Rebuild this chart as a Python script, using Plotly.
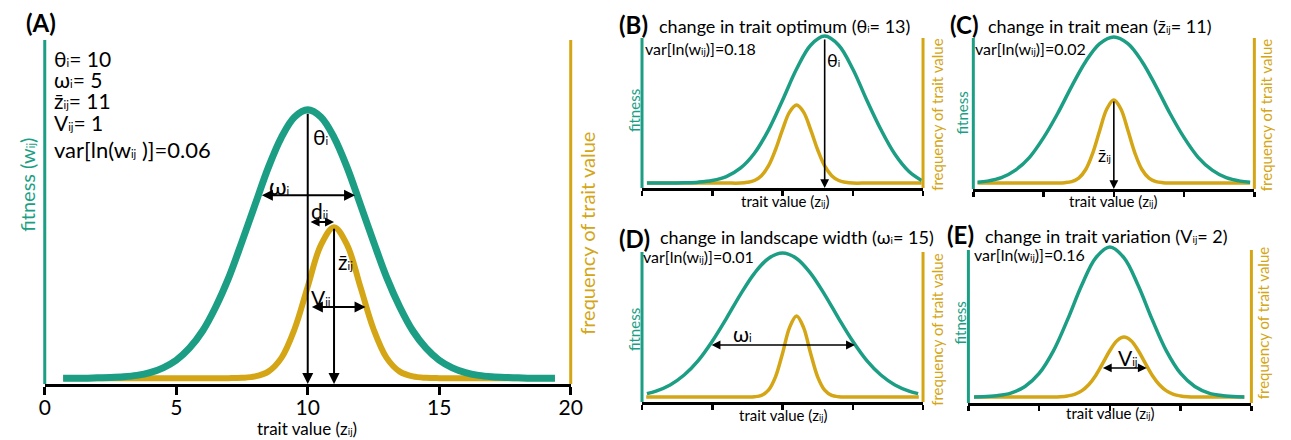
import plotly.graph_objects as go

W, H = 1291, 440
TEAL = "#1b9e84"
GOLD = "#d4a514"
FONT = "Lato"

# ---------------- data ----------------
# Panel A  (theta=10, omega=5, zbar=11, V=1)
A_x = [0.7, 1, 1.5, 2, 2.5, 3, 3.5, 4, 4.5, 5, 5.5, 6, 6.5, 7, 7.5, 8, 8.5, 9, 9.5, 10,
       10.5, 11, 11.5, 12, 12.5, 13, 13.5, 14, 14.5, 15, 15.5, 16, 16.5, 17, 17.5, 18, 18.5, 19, 19.4]
A_fitness = [0.017, 0.017, 0.017, 0.018, 0.019, 0.021, 0.025, 0.033, 0.047, 0.069, 0.104, 0.154,
             0.224, 0.310, 0.414, 0.522, 0.629, 0.717, 0.776, 0.797, 0.776, 0.717, 0.629, 0.522,
             0.414, 0.310, 0.224, 0.154, 0.104, 0.069, 0.047, 0.033, 0.025, 0.021, 0.019, 0.018,
             0.017, 0.017, 0.017]
A_freq = [0.017, 0.017, 0.017, 0.017, 0.017, 0.017, 0.017, 0.017, 0.017, 0.017, 0.017, 0.017,
          0.017, 0.017, 0.018, 0.022, 0.036, 0.076, 0.160, 0.283, 0.404, 0.456, 0.404, 0.283,
          0.160, 0.076, 0.036, 0.022, 0.018, 0.017, 0.017, 0.017, 0.017, 0.017, 0.017, 0.017,
          0.017, 0.017, 0.017]

# Panel B  (trait optimum 13)
B_x_fit = [0.35, 1, 2, 3, 4, 5, 6, 7, 8, 9, 10, 11, 12, 13, 14, 15, 16, 17, 18, 19, 19.9]
B_fitness = [0.033, 0.033, 0.033, 0.035, 0.039, 0.050, 0.076, 0.132, 0.232, 0.386, 0.585, 0.793,
             0.952, 1.013, 0.952, 0.793, 0.585, 0.390, 0.225, 0.110, 0.050]
B_x_freq = [0.35, 1, 2, 3, 4, 5, 6, 7, 7.5, 8, 8.5, 9, 9.5, 10, 10.5, 11, 11.5, 12, 12.5, 13,
            13.5, 14, 14.5, 15, 16, 17, 18, 19, 19.9]
B_freq = [0.033, 0.033, 0.033, 0.033, 0.033, 0.033, 0.033, 0.033, 0.038, 0.050, 0.082, 0.147,
          0.255, 0.389, 0.506, 0.553, 0.506, 0.389, 0.255, 0.147, 0.082, 0.050, 0.038, 0.033,
          0.033, 0.033, 0.033, 0.033, 0.033]

# Panel C  (trait mean)
C_x_fit = [0.3, 1, 2, 3, 4, 5, 6, 7, 8, 9, 10, 11, 12, 13, 14, 15, 16, 17, 18, 19, 19.7]
C_fitness = [0.045, 0.052, 0.075, 0.125, 0.210, 0.340, 0.500, 0.680, 0.845, 0.963, 1.007, 0.963,
             0.845, 0.680, 0.500, 0.340, 0.210, 0.125, 0.075, 0.052, 0.045]
C_x_freq = [0.3, 1, 2, 3, 4, 5, 6, 6.5, 7, 7.5, 8, 8.5, 9, 9.5, 10, 10.5, 11, 11.5, 12, 12.5,
            13, 13.5, 14, 15, 16, 17, 18, 19, 19.7]
C_freq = [0.040, 0.040, 0.040, 0.040, 0.040, 0.040, 0.040, 0.042, 0.049, 0.072, 0.129, 0.238,
          0.389, 0.530, 0.589, 0.530, 0.389, 0.238, 0.129, 0.072, 0.049, 0.042, 0.040, 0.040,
          0.040, 0.040, 0.040, 0.040, 0.040]

# Panel D  (landscape width 15)
D_x_fit = [0.35, 1, 2, 3, 4, 5, 6, 7, 8, 9, 10, 11, 12, 13, 14, 15, 16, 17, 18, 19, 19.65]
D_fitness = [0.056, 0.073, 0.114, 0.180, 0.276, 0.405, 0.556, 0.716, 0.858, 0.957, 0.993, 0.957,
             0.858, 0.716, 0.556, 0.405, 0.276, 0.180, 0.114, 0.073, 0.056]
D_x_freq = [0.3, 1, 2, 3, 4, 5, 6, 7, 7.5, 8, 8.5, 9, 9.5, 10, 10.5, 11, 11.5, 12, 12.5, 13,
            13.5, 14, 14.5, 15, 16, 17, 18, 19, 19.7]
D_freq = [0.033, 0.033, 0.033, 0.033, 0.033, 0.033, 0.033, 0.033, 0.033, 0.035, 0.044, 0.079,
          0.168, 0.324, 0.496, 0.573, 0.496, 0.324, 0.168, 0.079, 0.044, 0.035, 0.033, 0.033,
          0.033, 0.033, 0.033, 0.033, 0.033]

# Panel E  (trait variation 2)
E_x_fit = [0.4, 1, 2, 3, 4, 5, 6, 7, 8, 9, 10, 11, 12, 13, 14, 15, 16, 17, 18, 19, 19.5]
E_fitness = [0.040, 0.041, 0.048, 0.065, 0.108, 0.193, 0.339, 0.543, 0.768, 0.949, 1.020, 0.949,
             0.768, 0.543, 0.339, 0.193, 0.108, 0.065, 0.048, 0.041, 0.040]
E_x_freq = [0.4, 1, 2, 3, 4, 5, 6, 6.5, 7, 7.5, 8, 8.5, 9, 9.5, 10, 10.5, 11, 11.5, 12, 12.5,
            13, 13.5, 14, 14.5, 15, 15.5, 16, 17, 18, 19, 19.5]
E_freq = [0.039, 0.039, 0.039, 0.039, 0.039, 0.039, 0.039, 0.041, 0.046, 0.056, 0.079, 0.119,
          0.180, 0.260, 0.343, 0.407, 0.431, 0.407, 0.343, 0.260, 0.180, 0.119, 0.079, 0.056,
          0.046, 0.041, 0.039, 0.039, 0.039, 0.039, 0.039]

TICKS = [0, 5, 10, 15, 20]
TICK_LABELS = ["0", "5", "10", "15", "20"]

# ---------------- layout geometry (pixels) ----------------
YTOP = 1.1  # y range top; side lines reach 1.0
panels = {
    # name: (x_left_px, x_right_px, axis_y_px, line_height_px)
    "A": (39.3, 572.7, 384, 344),
    "B": (645, 930, 188, 150),
    "C": (981, 1266, 189, 151),
    "D": (645, 930, 402, 150),
    "E": (976, 1263, 403, 153),
}
order = ["A", "B", "C", "D", "E"]

def px(x):
    return x / W

def py(y):
    return 1 - y / H

def sub(s, size, color="black"):
    # small subscript sitting on the baseline, as in the original figure
    return '<span style="font-size:%dpx;color:%s">%s</span>' % (size, color, s)

fig = go.Figure()
layout = dict(width=W, height=H, margin=dict(l=0, r=0, t=0, b=0),
              paper_bgcolor="white", plot_bgcolor="white", showlegend=False,
              font=dict(family=FONT, color="black"))
shapes = []
annotations = []

series = {
    "A": (A_x, A_fitness, A_x, A_freq),
    "B": (B_x_fit, B_fitness, B_x_freq, B_freq),
    "C": (C_x_fit, C_fitness, C_x_freq, C_freq),
    "D": (D_x_fit, D_fitness, D_x_freq, D_freq),
    "E": (E_x_fit, E_fitness, E_x_freq, E_freq),
}

for i, name in enumerate(order, start=1):
    xl, xr, ay, lh = panels[name]
    big = name == "A"
    sfx = "" if i == 1 else str(i)
    layout["xaxis" + sfx] = dict(
        domain=[px(xl), px(xr)], range=[0, 20], anchor="y" + sfx,
        showline=True, linecolor="black", linewidth=3 if big else 2.5,
        ticks="outside", tickvals=TICKS, ticktext=TICK_LABELS,
        ticklen=8 if big else 5, tickwidth=3 if big else 2.5, tickcolor="black",
        showticklabels=big, tickfont=dict(size=21, family=FONT, color="black"),
        ticklabelstandoff=-5,
        showgrid=False, zeroline=False, fixedrange=True)
    layout["yaxis" + sfx] = dict(
        domain=[py(ay), py(ay - YTOP * lh)], range=[0, YTOP], anchor="x" + sfx,
        visible=False, fixedrange=True)
    xr_ = "x" + sfx
    yr_ = "y" + sfx
    shapes.append(dict(type="line", xref=xr_ + " domain", yref=yr_ + " domain",
                       x0=0, x1=0, y0=0, y1=1 / YTOP, line=dict(color=TEAL, width=3)))
    shapes.append(dict(type="line", xref=xr_ + " domain", yref=yr_ + " domain",
                       x0=1, x1=1, y0=0, y1=1 / YTOP, line=dict(color=GOLD, width=3)))
    fx, fy, gx, gy = series[name]
    lw = 7 if big else 3.5
    fig.add_trace(go.Scatter(x=gx, y=gy, mode="lines", xaxis=xr_, yaxis=yr_,
                             line=dict(color=GOLD, width=lw - 1 if big else lw,
                                       shape="spline", smoothing=1.0),
                             hoverinfo="skip"))
    fig.add_trace(go.Scatter(x=fx, y=fy, mode="lines", xaxis=xr_, yaxis=yr_,
                             line=dict(color=TEAL, width=lw, shape="spline", smoothing=1.0),
                             hoverinfo="skip"))

def text_px(text, x, y, size, color="black", xanchor="left", angle=0):
    annotations.append(dict(text=text, x=px(x), y=py(y), xref="paper", yref="paper",
                            xanchor=xanchor, yanchor="middle", showarrow=False,
                            textangle=angle, borderpad=0,
                            font=dict(size=size, color=color, family=FONT)))

def text_data(text, sfx, x, y, size, xanchor="left"):
    annotations.append(dict(text=text, x=x, y=y, xref="x" + sfx, yref="y" + sfx,
                            xanchor=xanchor, yanchor="middle", showarrow=False, borderpad=0,
                            font=dict(size=size, color="black", family=FONT)))

def arrow(sfx, x_head, y_head, x_tail, y_tail, double=False, width=2, size=1.1):
    a = dict(text="", x=x_head, y=y_head, ax=x_tail, ay=y_tail,
             xref="x" + sfx, yref="y" + sfx, axref="x" + sfx, ayref="y" + sfx,
             showarrow=True, arrowhead=2, arrowsize=size, arrowwidth=width,
             arrowcolor="black", standoff=0, startstandoff=0)
    if double:
        a.update(arrowside="end+start", startarrowhead=2, startarrowsize=size)
    annotations.append(a)

ZBAR = "z\u0304"

# ---- Panel A texts ----
text_px("<b>(A)</b>", 35, 23, 24, xanchor="center")
text_px("θ" + sub("i", 11) + "= 10", 48, 58, 21)
text_px("ω" + sub("i", 11) + "= 5", 48, 79, 21)
text_px(ZBAR + sub("ij", 11) + "= 11", 48, 100, 21)
text_px("V" + sub("ij", 11) + "= 1", 48, 122, 21)
text_px("var[ln(w" + sub("ij", 11) + " )]=0.06", 48, 150, 22)
text_px("fitness (w" + sub("ij", 11, TEAL) + ")", 21, 185, 20, color=TEAL, xanchor="center", angle=-90)
text_px("frequency of trait value", 589, 233, 20, color=GOLD, xanchor="center", angle=-90)
text_px("trait value (z" + sub("ij", 10) + ")", 305, 428, 17, xanchor="center")

arrow("", 10, 0, 10, 0.79)
arrow("", 11.8, 0.549, 8.2, 0.549, double=True)
arrow("", 11, 0.471, 10.05, 0.471, double=True, size=0.9)
arrow("", 11, 0, 11, 0.456)
arrow("", 12.2, 0.224, 10.1, 0.224, double=True)
text_data("θ" + sub("i", 11), "", 10.15, 0.72, 21)
text_data("ω" + sub("i", 11), "", 8.5, 0.577, 23)
text_data("d" + sub("ij", 11), "", 10.1, 0.503, 21)
text_data(ZBAR + sub("ij", 11), "", 11.1, 0.355, 21)
text_data("V" + sub("ij", 11), "", 10.1, 0.25, 21)

# ---- Panel B ----
text_px("<b>(B)</b>", 636, 24, 24, xanchor="center")
text_px("change in trait optimum (θ" + sub("i", 10) + "= 13)", 661, 26, 18)
text_px("var[ln(w" + sub("ij", 10) + ")]=0.18", 647, 49, 16)
text_px("fitness", 637, 111, 15, color=TEAL, xanchor="center", angle=-90)
text_px("frequency of trait value", 944, 115, 15, color=GOLD, xanchor="center", angle=-90)
text_px("trait value (z" + sub("ij", 9) + ")", 790, 201, 15, xanchor="center")
arrow("2", 13, 0, 13, 1.0, width=1.6)
text_data("θ" + sub("i", 10), "2", 13.1, 0.85, 18)

# ---- Panel C ----
text_px("<b>(C)</b>", 972, 24, 24, xanchor="center")
text_px("change in trait mean (" + ZBAR + sub("ij", 10) + "= 11)", 995, 26, 18)
text_px("var[ln(w" + sub("ij", 10) + ")]=0.02", 982, 49, 16)
text_px("fitness", 970, 113, 15, color=TEAL, xanchor="center", angle=-90)
text_px("frequency of trait value", 1278, 115, 15, color=GOLD, xanchor="center", angle=-90)
text_px("trait value (z" + sub("ij", 9) + ")", 1123, 201, 15, xanchor="center")
arrow("3", 10, 0, 10, 0.589, width=1.6)
text_data(ZBAR + sub("ij", 10), "3", 9.85, 0.225, 18, xanchor="right")

# ---- Panel D ----
text_px("<b>(D)</b>", 637, 238, 24, xanchor="center")
text_px("change in landscape width (ω" + sub("i", 10) + "= 15)", 662, 237, 18)
text_px("var[ln(w" + sub("ij", 10) + ")]=0.01", 645, 256, 16)
text_px("fitness", 637, 330, 15, color=TEAL, xanchor="center", angle=-90)
text_px("frequency of trait value", 944, 330, 15, color=GOLD, xanchor="center", angle=-90)
text_px("trait value (z" + sub("ij", 9) + ")", 788, 415, 15, xanchor="center")
arrow("4", 15.15, 0.38, 4.85, 0.38, double=True, width=1.6)
text_data("ω" + sub("i", 11), "4", 6.4, 0.46, 21)

# ---- Panel E ----
text_px("<b>(E)</b>", 968, 234, 24, xanchor="center")
text_px("change in trait variation (V" + sub("ij", 10) + "= 2)", 992, 236, 18)
text_px("var[ln(w" + sub("ij", 10) + ")]=0.16", 981, 254, 16)
text_px("fitness", 967, 323, 15, color=TEAL, xanchor="center", angle=-90)
text_px("frequency of trait value", 1275, 323, 15, color=GOLD, xanchor="center", angle=-90)
text_px("trait value (z" + sub("ij", 9) + ")", 1120, 413, 15, xanchor="center")
arrow("5", 12.6, 0.229, 9.4, 0.229, double=True, width=1.6)
text_data("V" + sub("ij", 11), "5", 10.5, 0.30, 21)

layout["shapes"] = shapes
layout["annotations"] = annotations
fig.update_layout(**layout)
fig.write_html("out.html", config={"displayModeBar": False, "staticPlot": True},
               post_script="document.body.style.margin='0';document.body.style.overflow='hidden';")
